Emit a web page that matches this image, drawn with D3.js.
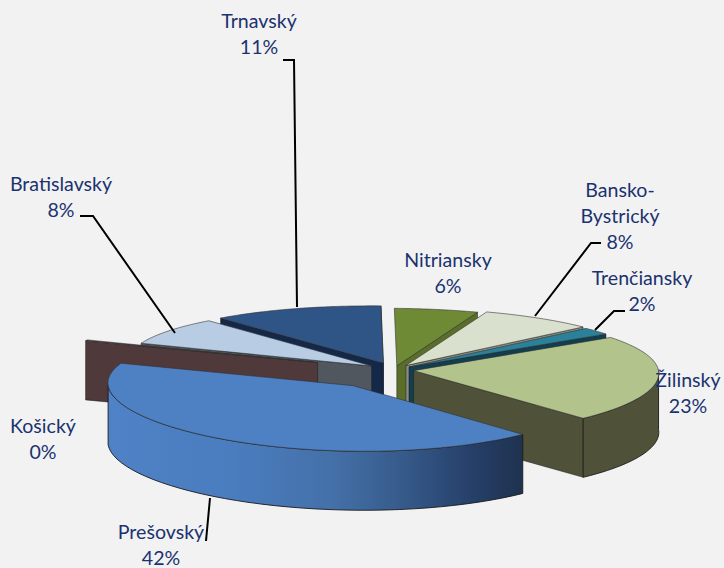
<!DOCTYPE html>
<html><head><meta charset="utf-8">
<script src="https://cdnjs.cloudflare.com/ajax/libs/d3/7.8.5/d3.min.js"></script>
<style>html,body{margin:0;padding:0;background:#f2f2f2}svg{display:block}text{font-family:Lato,"Open Sans",sans-serif;font-size:19.6px;fill:#1b3270;text-anchor:middle;dominant-baseline:middle}</style>
</head><body><div id="c"></div>
<script>
const categories=["Nitriansky","Bansko-Bystrický","Trenčiansky","Žilinský","Prešovský","Košický","Bratislavský","Trnavský"];
const values=[5.5,7.5,2,23,42.4,0.3,7.9,11.4];
const percentLabels=["6%","8%","2%","23%","42%","0%","8%","11%"];
const explode=[0.07,0.09,0.08,0.08,0.31,0.33,0.11,0.12];
const topColors=["#6e8a35","#d9e0cd","#2a8199","#b3c38c","#4e80c4","#50393a","#b8cce4","#2f5587"];
const wallColors=["#5a6e2a","#8a8c84","#123f50","#4f5238","url(#g)","#50393a","#50575f","#14294a"];
const paintOrder=[7,0,1,2,6,5,3,4];

const W=724,H=568,cx=394,cy=370,rx=245,ry=61,depth=59,persp=0.05,shear=11;
const startAngle=2*Math.PI/180;
const svg=d3.select("#c").append("svg").attr("width",W).attr("height",H);
svg.append("rect").attr("width",W).attr("height",H).attr("fill","#f2f2f2");
const grad=svg.append("defs").append("linearGradient").attr("id","g").attr("gradientUnits","userSpaceOnUse")
  .attr("x1",106).attr("x2",520).attr("y1",0).attr("y2",0);
[[0,"#4f82c6"],[.3,"#4a7dbf"],[.55,"#4470a8"],[.72,"#365a8a"],[.88,"#26406a"],[1,"#1f3350"]]
  .forEach(s=>grad.append("stop").attr("offset",s[0]).attr("stop-color",s[1]));

const arcs=d3.pie().sort(null).startAngle(startAngle).endAngle(startAngle+2*Math.PI)(values);
const project=(a,r,e,mid,d=0)=>{
  const X=r*Math.sin(a)+e*Math.sin(mid),Z=r*Math.cos(a)+e*Math.cos(mid);
  return [cx+X*rx-shear*Z, cy-Z*ry*(1-persp*Z)+d];
};
const line=d3.line();
const steps=(a0,a1)=>d3.range(0,41).map(i=>a0+(a1-a0)*i/40);
const g=svg.append("g");

paintOrder.forEach(i=>{
  const s=arcs[i],a0=s.startAngle,a1=s.endAngle,mid=(a0+a1)/2,e=explode[i];
  const P=(a,r,d)=>project(a,r,e,mid,d);
  const wall=a=>[P(a,0,0),P(a,1,0),P(a,1,depth),P(a,0,depth)];
  if(Math.cos(a0-Math.PI/2)<-1e-6) g.append("path").attr("d",line(wall(a0))+"Z").attr("fill",wallColors[i]).attr("stroke","#1a1a1a").attr("stroke-width",.5);
  if(Math.cos(a1+Math.PI/2)<-1e-6) g.append("path").attr("d",line(wall(a1))+"Z").attr("fill",wallColors[i]).attr("stroke","#1a1a1a").attr("stroke-width",.5);
  const f0=Math.max(a0,Math.PI/2),f1=Math.min(a1,3*Math.PI/2);
  if(f1>f0){
    const ang=steps(f0,f1);
    const pts=ang.map(a=>P(a,1,0)).concat(ang.slice().reverse().map(a=>P(a,1,depth)));
    g.append("path").attr("d",line(pts)+"Z").attr("fill",wallColors[i]).attr("stroke","#1a1a1a").attr("stroke-width",.9);
  }
  const top=[P(a0,0,0)].concat(steps(a0,a1).map(a=>P(a,1,0)));
  g.append("path").attr("d",line(top)+"Z").attr("fill",topColors[i]).attr("stroke","#333").attr("stroke-width",.6);
});

const leaders=[
 [[283,60],[294,60],[297,307]],
 [[80,216],[93,216],[175,333]],
 [[206,541],[210,498]],
 [[601,243],[591,243],[535,316]],
 [[625,311],[614,311],[595,330]]
];
svg.append("g").selectAll("path").data(leaders).join("path").attr("d",d=>line(d))
  .attr("fill","none").attr("stroke","#000").attr("stroke-width",2);

const labelLines={
 "Nitriansky":["Nitriansky"],"Bansko-Bystrický":["Bansko-","Bystrický"],"Trenčiansky":["Trenčiansky"],
 "Žilinský":["Žilinský"],"Prešovský":["Prešovský"],"Košický":["Košický"],"Bratislavský":["Bratislavský"],"Trnavský":["Trnavský"]};
const labelAt=[[448,262],[620,192],[642,280],[688,382],[161,534],[43,428],[61,186],[259,23]];
categories.forEach((c,i)=>{
  const [x,y]=labelAt[i];
  labelLines[c].concat([percentLabels[i]]).forEach((t,j)=>svg.append("text").attr("x",x).attr("y",y+j*26).text(t));
});
</script></body></html>
